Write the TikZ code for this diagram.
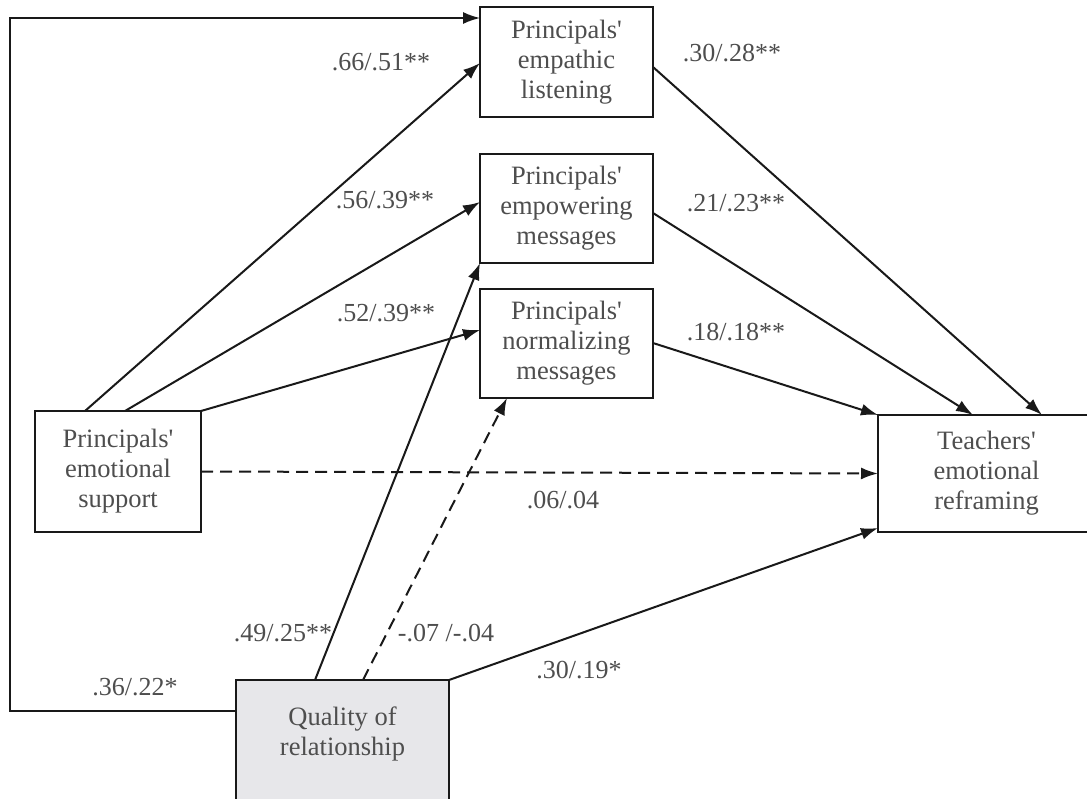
\documentclass[tikz,border=0pt]{standalone}
\usepackage{fontspec}
\newfontfamily\diagfont{Liberation Serif}
\usetikzlibrary{arrows.meta}
\definecolor{linec}{RGB}{25,25,25}
\definecolor{textc}{RGB}{78,78,78}
\definecolor{qfill}{RGB}{231,231,234}
\begin{document}
\begin{tikzpicture}[x=1pt,y=-1pt,
  box/.style={draw=linec, line width=2.2pt, rectangle, inner sep=0pt, outer sep=0pt,
    align=center, text=textc, font=\diagfont\fontsize{26.5}{30}\selectfont},
  lbl/.style={text=textc, inner sep=0pt, align=center, font=\diagfont\fontsize{26}{30}\selectfont},
  conn/.style={draw=linec, line width=2pt, -{Latex[length=17pt,width=12pt]}},
  dsh/.style={conn, dash pattern=on 12pt off 7pt}]
\clip (0,0) rectangle (1087,798);
\fill[white] (0,0) rectangle (1087,798);

% boxes
\node[box, minimum width=173pt, minimum height=110pt] (L) at (566.5,62) {Principals'\\empathic\\listening};
\node[box, minimum width=173pt, minimum height=109pt] (E) at (566.5,208.5) {Principals'\\empowering\\messages};
\node[box, minimum width=173pt, minimum height=109pt] (N) at (566.5,343.5) {Principals'\\normalizing\\messages};
\node[box, minimum width=166pt, minimum height=121pt] (S) at (118,471.5) {Principals'\\emotional\\support};
\node[box, minimum width=217pt, minimum height=117pt] (T) at (986.5,473.5) {Teachers'\\emotional\\reframing};
\node[box, fill=qfill, minimum width=213pt, minimum height=160pt] (Q) at (342.5,760) {};
\node[lbl, font=\diagfont\fontsize{26.5}{30}\selectfont] (Qt) at (342.5,734) {Quality of\\relationship};

% connectors
\draw[conn, line width=1.6pt] ([yshift=-31pt]Q.north west) -- ++(-226,0) |- ([yshift=-11pt]L.north west);
\draw[conn] ([xshift=50pt]S.north west) -- ([yshift=-56pt]L.north west);
\draw[conn] ([xshift=90pt]S.north west) -- ([yshift=-48pt]E.north west);
\draw[conn] (S.north east) -- ([yshift=-41pt]N.north west);
\draw[dsh] (S.east) -- (T.west);
\draw[conn] ([xshift=79pt]Q.north west) -- (E.south west);
\draw[dsh] ([xshift=127pt]Q.north west) -- ([xshift=27pt]N.south west);
\draw[conn] (Q.north east) -- ([yshift=4pt]T.south west);
\draw[conn] ([yshift=-60pt]L.north east) -- ([xshift=164pt]T.north west);
\draw[conn] ([yshift=-59pt]E.north east) -- ([xshift=95pt]T.north west);
\draw[conn] ([yshift=-54pt]N.north east) -- (T.north west);

% labels
\node[lbl] (l1) at (381,62) {.66/.51**};
\node[lbl] (l2) at (385,200) {.56/.39**};
\node[lbl] (l3) at (386,313) {.52/.39**};
\node[lbl] (l4) at (732,53) {.30/.28**};
\node[lbl] (l5) at (736,203) {.21/.23**};
\node[lbl] (l6) at (736,332) {.18/.18**};
\node[lbl] (l7) at (563,500) {.06/.04};
\node[lbl] (l8) at (579,670) {.30/.19*};
\node[lbl] (l9) at (283,633) {.49/.25**};
\node[lbl] (l10) at (446,633) {-.07 /-.04};
\node[lbl] (l11) at (135,687) {.36/.22*};
\end{tikzpicture}
\end{document}
